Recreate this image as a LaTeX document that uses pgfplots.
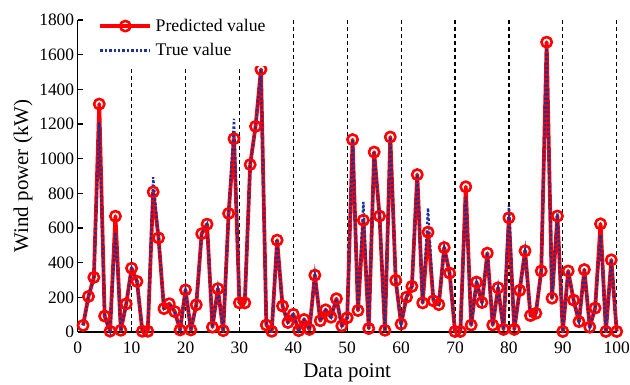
\documentclass[border=0pt]{standalone}
\usepackage{fontspec}
\setmainfont{Liberation Serif}
\usepackage{pgfplots}
\pgfplotsset{compat=1.18}
\usepackage{pgfplotstable}
\definecolor{predred}{RGB}{255,0,0}
\definecolor{trueblue}{RGB}{30,50,150}
\pgfplotsset{
  predleg/.style={legend image code/.code={\draw[mark repeat=2,mark phase=2,##1] plot coordinates {(0bp,0bp) (25bp,0bp) (50bp,0bp)};}},
  trueleg/.style={legend image code/.code={\draw[##1] (0bp,0bp) -- (50bp,0bp);}},
}

\pgfplotstableread{
x pred true
1 38 38
2 205 205
3 315 315
4 1315 1210
5 92 92
6 5 5
7 668 575
8 10 10
9 162 162
10 368 368
11 292 292
12 4 4
13 4 4
14 808 893
15 543 543
16 135 135
17 163 163
18 118 118
19 12 12
20 243 243
21 12 12
22 157 157
23 567 567
24 622 622
25 28 28
26 250 250
27 8 8
28 684 684
29 1115 1230
30 168 168
31 168 168
32 966 966
33 1186 1186
34 1515 1515
35 40 40
36 4 4
37 530 530
38 150 150
39 55 55
40 102 102
41 8 8
42 72 72
43 15 15
44 328 328
45 65 65
46 128 128
47 85 85
48 192 192
49 35 35
50 82 82
51 1110 1110
52 124 124
53 645 750
54 20 20
55 1038 1038
56 669 669
57 10 10
58 1125 1125
59 298 298
60 46 46
61 201 201
62 263 263
63 908 908
64 168 168
65 576 715
66 180 180
67 158 158
68 487 487
69 340 340
70 3 3
71 3 3
72 838 780
73 40 40
74 288 288
75 170 170
76 455 455
77 40 40
78 255 255
79 15 15
80 659 730
81 15 15
82 240 240
83 468 468
84 95 95
85 108 108
86 352 352
87 1672 1650
88 195 195
89 669 685
90 3 3
91 352 352
92 184 184
93 60 60
94 360 360
95 28 28
96 138 138
97 624 560
98 3 3
99 416 416
100 3 3
}\datatable

\begin{document}
\begin{tikzpicture}
\path[use as bounding box] (-77.7bp,-53bp) rectangle (552.3bp,332bp);
\begin{axis}[
  at={(0,0)}, anchor=south west,
  scale only axis, width=539bp, height=312bp,
  xmin=0, xmax=100, ymin=0, ymax=1800,
  xtick={0,10,...,100}, ytick={0,200,...,1800},
  axis lines*=left,
  tick align=inside,
  major tick length=5bp,
  axis line style={line width=1.3bp, black},
  tick style={line width=1.1bp, black},
  ticklabel style={font=\fontsize{17.5}{20}\selectfont},
  xticklabel style={yshift=-6bp},
  label style={font=\fontsize{21}{24}\selectfont},
  /pgf/number format/assume math mode=true,
  /pgf/number format/1000 sep={},
  xlabel={Data point},
  ylabel={Wind power (kW)},
  xlabel style={at={(axis description cs:0.5,-0.131)}, anchor=center},
  ylabel style={at={(axis description cs:-0.1015,0.5)}, anchor=center},
  clip=false,
  legend cell align=left,
  legend style={draw=none, fill=white, at={(axis description cs:0.0325,1.030)}, anchor=north west,
    font=\fontsize{17.8}{20}\selectfont, inner xsep=3bp, inner ysep=3bp,
    nodes={inner xsep=3.5bp, inner ysep=5.35bp}, row sep=0bp},
]
\pgfplotsinvokeforeach{10,20,30,40,50,60,70,80,90,100}{
  \addplot[forget plot, black, line width=1.2bp, dash pattern=on 4bp off 3bp] coordinates {(#1,0) (#1,1800)};
}
\addplot[predred, line width=3.8bp, line join=round, mark=o, mark size=5.2bp,
  mark options={line width=2.6bp, solid}, predleg]
  table[x=x, y=pred]{\datatable};
\addlegendentry{Predicted value}
\addplot[trueblue, line width=2.4bp, dash pattern=on 2.4bp off 2bp, trueleg]
  table[x=x, y=true]{\datatable};
\addlegendentry{True value}
\end{axis}
\end{tikzpicture}
\end{document}
